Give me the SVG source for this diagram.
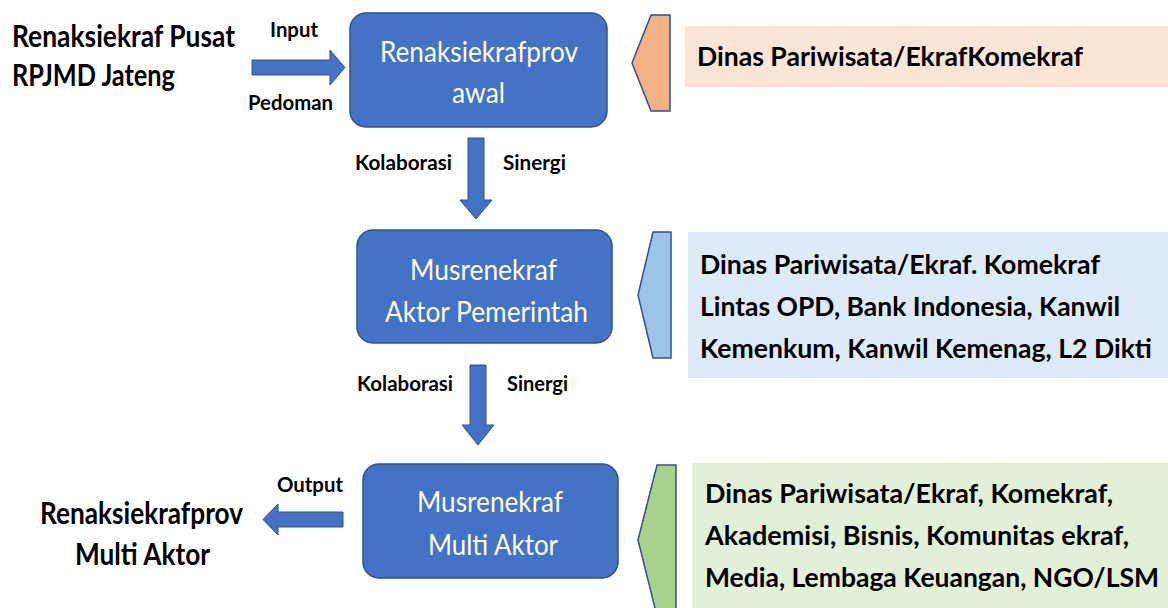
<svg xmlns="http://www.w3.org/2000/svg" width="1168" height="608" viewBox="0 0 1168 608">
<style>
.box{fill:#4472C4;stroke:#2F528F;stroke-width:1.5}
.arr{fill:#4472C4;stroke:#2F528F;stroke-width:1}
.pent{stroke:#2F528F;stroke-width:1.5}
.wt{font-family:Lato,"Liberation Sans",sans-serif;font-size:29px;fill:#FFFFFF}
.bt{font-family:Lato,"Liberation Sans",sans-serif;font-size:26px;font-weight:bold;fill:#000000}
.lt{font-family:Lato,"Liberation Sans",sans-serif;font-size:31px;font-weight:bold;fill:#000000}
.st{font-family:Lato,"Liberation Sans",sans-serif;font-size:21px;font-weight:bold;fill:#000000}
</style>
<rect width="1168" height="608" fill="#FFFFFF"/>
<g id="source">
<text class="lt" x="12" y="47" textLength="223" lengthAdjust="spacingAndGlyphs">Renaksiekraf Pusat</text>
<text class="lt" x="12" y="86" textLength="163" lengthAdjust="spacingAndGlyphs">RPJMD Jateng</text>
</g>
<g id="result">
<text class="lt" x="40" y="524" textLength="203" lengthAdjust="spacingAndGlyphs">Renaksiekrafprov</text>
<text class="lt" x="75" y="565" textLength="135" lengthAdjust="spacingAndGlyphs">Multi Aktor</text>
</g>
<g id="node-renaksiekrafprov-awal">
<rect class="box" x="350" y="13" width="257" height="114" rx="16"/>
<text class="wt" x="380" y="62" textLength="198" lengthAdjust="spacingAndGlyphs">Renaksiekrafprov</text>
<text class="wt" x="452" y="103" textLength="53" lengthAdjust="spacingAndGlyphs">awal</text>
</g>
<g id="node-musrenekraf-pemerintah">
<rect class="box" x="357" y="230" width="255" height="113" rx="16"/>
<text class="wt" x="410" y="280" textLength="147" lengthAdjust="spacingAndGlyphs">Musrenekraf</text>
<text class="wt" x="385" y="322" textLength="203" lengthAdjust="spacingAndGlyphs">Aktor Pemerintah</text>
</g>
<g id="node-musrenekraf-multi">
<rect class="box" x="363" y="464" width="255" height="114" rx="16"/>
<text class="wt" x="417" y="512" textLength="146" lengthAdjust="spacingAndGlyphs">Musrenekraf</text>
<text class="wt" x="428" y="555" textLength="130" lengthAdjust="spacingAndGlyphs">Multi Aktor</text>
</g>
<g id="actors-1">
<polygon class="pent" fill="#F4B183" points="651,15 670,15 670,111 651,111 632,63"/>
<rect x="685" y="26" width="483" height="61" fill="#FBE5D6"/>
<text class="bt" x="697" y="66" textLength="386" lengthAdjust="spacingAndGlyphs">Dinas Pariwisata/EkrafKomekraf</text>
</g>
<g id="actors-2">
<polygon class="pent" fill="#9DC3E6" points="653,232 671,232 671,358 653,358 638,295"/>
<rect x="688" y="232" width="480" height="146" fill="#DEEBF7"/>
<text class="bt" x="700" y="274" textLength="400" lengthAdjust="spacingAndGlyphs">Dinas Pariwisata/Ekraf. Komekraf</text>
<text class="bt" x="700" y="316" textLength="420" lengthAdjust="spacingAndGlyphs">Lintas OPD, Bank Indonesia, Kanwil</text>
<text class="bt" x="700" y="358" textLength="452" lengthAdjust="spacingAndGlyphs">Kemenkum, Kanwil Kemenag, L2 Dikti</text>
</g>
<g id="actors-3">
<polygon class="pent" fill="#A9D18E" points="657,465 676,465 676,616 657,616 638,540"/>
<rect x="692" y="463" width="476" height="150" fill="#E2F0D9"/>
<text class="bt" x="705" y="503" textLength="408" lengthAdjust="spacingAndGlyphs">Dinas Pariwisata/Ekraf, Komekraf,</text>
<text class="bt" x="705" y="545" textLength="424" lengthAdjust="spacingAndGlyphs">Akademisi, Bisnis, Komunitas ekraf,</text>
<text class="bt" x="705" y="587" textLength="454" lengthAdjust="spacingAndGlyphs">Media, Lembaga Keuangan, NGO/LSM</text>
</g>
<g id="connectors">
<polygon class="arr" points="252,60 330,60 330,50 345,67.5 330,85 330,75 252,75"/>
<text class="st" x="270" y="37" textLength="48" lengthAdjust="spacingAndGlyphs">Input</text>
<text class="st" x="248" y="110" textLength="85" lengthAdjust="spacingAndGlyphs">Pedoman</text>
<polygon class="arr" points="468,138 484,138 484,200 492,200 476,219 460,200 468,200"/>
<text class="st" x="355" y="170" textLength="97" lengthAdjust="spacingAndGlyphs">Kolaborasi</text>
<text class="st" x="503" y="170" textLength="63" lengthAdjust="spacingAndGlyphs">Sinergi</text>
<polygon class="arr" points="470,365 486,365 486,425 494,425 478,445 462,425 470,425"/>
<text class="st" x="357" y="391" textLength="96" lengthAdjust="spacingAndGlyphs">Kolaborasi</text>
<text class="st" x="507" y="391" textLength="61" lengthAdjust="spacingAndGlyphs">Sinergi</text>
<polygon class="arr" points="343,512 278,512 278,504 263,519.5 278,535 278,527 343,527"/>
<text class="st" x="277" y="492" textLength="66" lengthAdjust="spacingAndGlyphs">Output</text>
</g>
</svg>
